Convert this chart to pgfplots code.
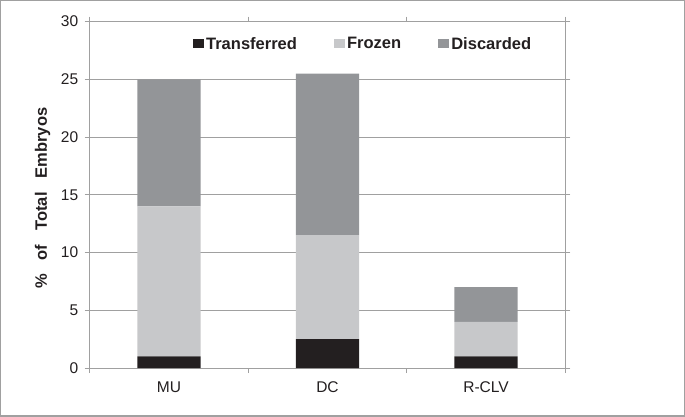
\documentclass[border=0pt]{standalone}
\usepackage{fontspec}
\setmainfont{Liberation Sans}
\usepackage{pgfplots}
\pgfplotsset{compat=1.18}
\definecolor{cT}{HTML}{231F20}
\definecolor{cF}{HTML}{C7C8CA}
\definecolor{cD}{HTML}{939598}
\definecolor{cG}{HTML}{A0A0A0}
\begin{document}
\begin{tikzpicture}
\begin{axis}[
  scale only axis, width=475pt, height=346pt,
  ybar stacked, bar width=0.4,
  legend image code/.code={\fill[#1,draw=none] (0pt,-4.5pt) rectangle (11pt,5pt);},
  xmin=-0.5, xmax=2.5, ymin=0, ymax=30,
  xtick={-0.5,0.5,1.5,2.5}, xticklabels={},
  extra x ticks={0,1,2}, extra x tick labels={MU,DC,R-CLV},
  extra x tick style={major tick length=0pt, xmajorgrids=false,
    xticklabel style={font=\fontsize{15.5}{15.5}\selectfont, text=cT, yshift=-10pt}},
  ytick={0,5,...,30},
  ymajorgrids, grid style={cG, line width=0.8pt},
  axis line style={cG, line width=0.8pt},
  tick style={cG, line width=0.8pt},
  tick align=outside, major tick length=5pt,
  /pgf/number format/assume math mode=true,
  yticklabel style={font=\fontsize{15.5}{15.5}\selectfont, text=cT, xshift=-3pt},
  ylabel={\%\hspace{0.85em}of\hspace{0.85em}Total\hspace{0.85em}Embryos},
  ylabel style={font=\bfseries\fontsize{16.5}{16.5}\selectfont, text=cT,
    at={(axis description cs:-0.099,0.49)}, anchor=center},
  legend style={at={(0.575,0.936)}, anchor=center, draw=none, fill=none,
    legend columns=-1, font=\bfseries\fontsize{16.5}{16.5}\selectfont, text=cT,
    /tikz/every even column/.append style={column sep=35pt}},
]
\addplot[fill=cT, draw=none] coordinates {(0,1) (1,2.5) (2,1)};
\addplot[fill=cF, draw=none] coordinates {(0,13) (1,9) (2,3)};
\addplot[fill=cD, draw=none] coordinates {(0,11) (1,14) (2,3)};
\legend{Transferred,Frozen,Discarded}
\end{axis}
\begin{scope}[shift={(current axis.south west)}]
\draw[cG, line width=1.2pt] (-89pt,-48pt) rectangle (594pt,367pt);
\end{scope}
\end{tikzpicture}
\end{document}
